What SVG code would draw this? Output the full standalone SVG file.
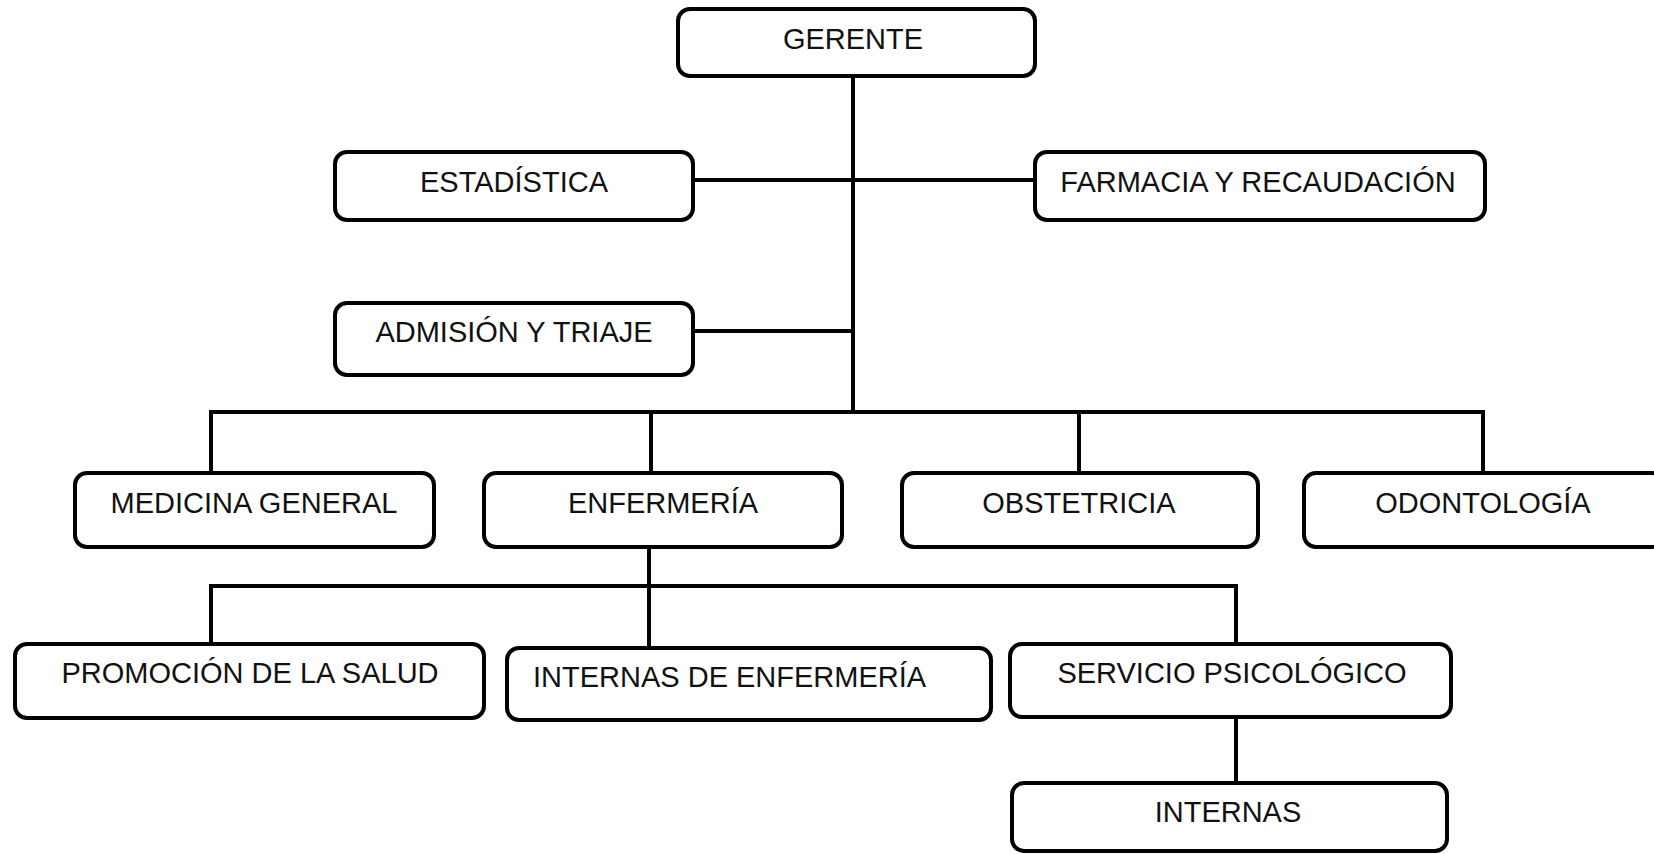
<svg xmlns="http://www.w3.org/2000/svg" width="1654" height="854" viewBox="0 0 1654 854">
<style>
.box{fill:#fff;stroke:#000;stroke-width:4}
.lbl{font-family:"Liberation Sans",Arial,sans-serif;font-size:29px;fill:#111;text-anchor:middle}
.con{fill:none;stroke:#000;stroke-width:4;stroke-linejoin:miter;stroke-linecap:butt}
</style>
<rect width="1654" height="854" fill="#fff"/>
<g id="connectors">
<path class="con" d="M853,76 V412"/>
<path class="con" d="M693,180 H1035"/>
<path class="con" d="M693,331 H853"/>
<path class="con" d="M211,473 V412 H1483 V473"/>
<path class="con" d="M651,412 V473"/>
<path class="con" d="M1079,412 V473"/>
<path class="con" d="M649,547 V648"/>
<path class="con" d="M211,644 V586 H1236 V644"/>
<path class="con" d="M1236,717 V783"/>
</g>
<g id="gerente"><rect class="box" x="678" y="9" width="357" height="67" rx="12"/><text class="lbl" x="853" y="49">GERENTE</text></g>
<g id="estadistica"><rect class="box" x="335" y="152" width="358" height="68" rx="12"/><text class="lbl" x="514" y="192">ESTADÍSTICA</text></g>
<g id="farmacia"><rect class="box" x="1035" y="152" width="450" height="68" rx="12"/><text class="lbl" x="1258" y="192">FARMACIA Y RECAUDACIÓN</text></g>
<g id="admision"><rect class="box" x="335" y="303" width="358" height="72" rx="12"/><text class="lbl" x="514" y="342">ADMISIÓN Y TRIAJE</text></g>
<g id="medicina"><rect class="box" x="75" y="473" width="359" height="74" rx="12"/><text class="lbl" x="254" y="513">MEDICINA GENERAL</text></g>
<g id="enfermeria"><rect class="box" x="484" y="473" width="358" height="74" rx="12"/><text class="lbl" x="663" y="513">ENFERMERÍA</text></g>
<g id="obstetricia"><rect class="box" x="902" y="473" width="356" height="74" rx="12"/><text class="lbl" x="1079" y="513">OBSTETRICIA</text></g>
<g id="odontologia"><rect class="box" x="1304" y="473" width="360" height="74" rx="12"/><text class="lbl" x="1483" y="513">ODONTOLOGÍA</text></g>
<g id="promocion"><rect class="box" x="15" y="644" width="469" height="74" rx="12"/><text class="lbl" x="250" y="683">PROMOCIÓN DE LA SALUD</text></g>
<g id="internas-enfermeria"><rect class="box" x="507" y="648" width="484" height="72" rx="12"/><text class="lbl" x="533" y="687" style="text-anchor:start">INTERNAS DE ENFERMERÍA</text></g>
<g id="servicio"><rect class="box" x="1010" y="644" width="441" height="73" rx="12"/><text class="lbl" x="1232" y="683">SERVICIO PSICOLÓGICO</text></g>
<g id="internas"><rect class="box" x="1012" y="783" width="435" height="68" rx="12"/><text class="lbl" x="1228" y="822">INTERNAS</text></g>
</svg>
